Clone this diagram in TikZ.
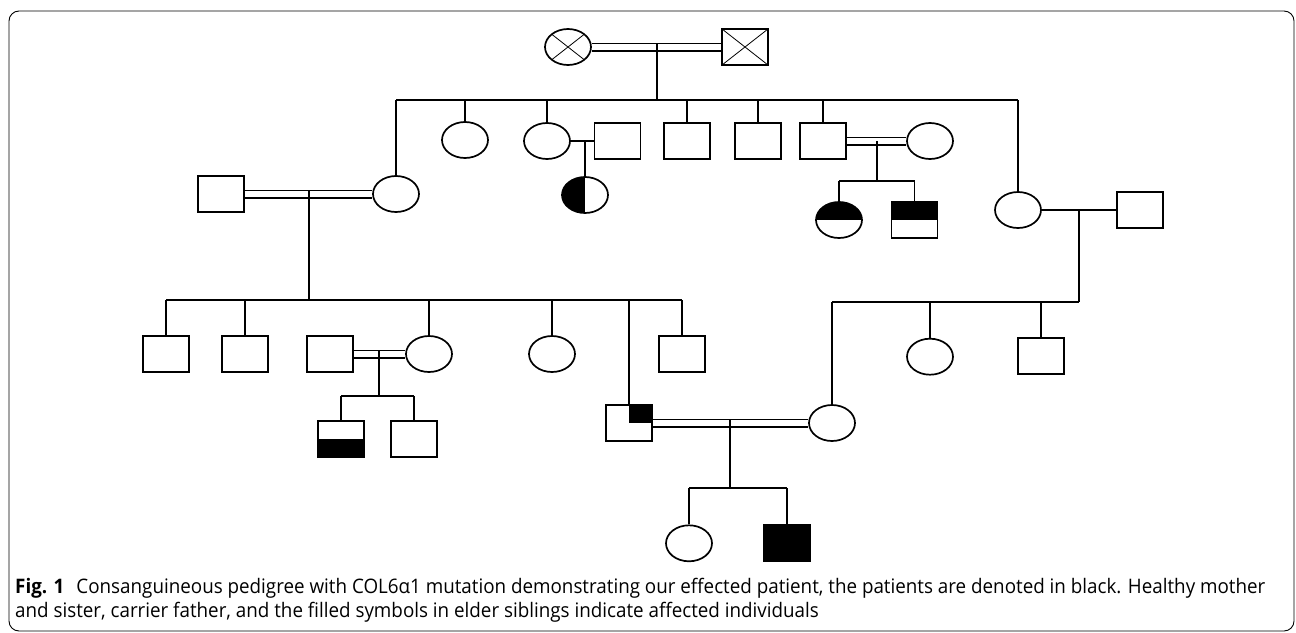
\documentclass[tikz,border=0pt]{standalone}
\usepackage{fontspec}
\newfontfamily\capfont[FakeStretch=0.94]{Open Sans}
\usetikzlibrary{shapes.geometric}
\begin{document}
\begin{tikzpicture}[x=1pt,y=-1pt,
  ln/.style={line width=1.7pt},
  dbl/.style={line width=1.6pt, double, double distance=5.8pt},
  fem/.style={ellipse, draw, line width=1.7pt, minimum width=46pt, minimum height=36pt, inner sep=0pt},
  mal/.style={rectangle, draw, line width=1.7pt, minimum width=46pt, minimum height=36pt, inner sep=0pt},
  crossx/.style={path picture={\draw[line width=0.8pt] (path picture bounding box.north west) -- (path picture bounding box.south east) (path picture bounding box.north east) -- (path picture bounding box.south west);}},
  lefthalf/.style={path picture={\fill (path picture bounding box.north west) rectangle (path picture bounding box.south);}},
  tophalf/.style={path picture={\fill (path picture bounding box.north west) rectangle (path picture bounding box.east);}},
  bottomhalf/.style={path picture={\fill (path picture bounding box.west) rectangle (path picture bounding box.south east);}},
  topright/.style={path picture={\fill (path picture bounding box.north) rectangle (path picture bounding box.east);}},
  affected/.style={fill=black}]
\useasboundingbox (0,0) rectangle (1296,632);
\draw[line width=0.9pt, rounded corners=10pt] (9,11) rectangle (1294,631);

% Generation I
\node[fem,crossx] (gm) at (568,47) {};
\node[mal,crossx] (gf) at (745,47) {};
\draw[dbl] (gm) -- (gf);
\coordinate (gmid) at (657,43.3);
\coordinate (gsib) at (657,100);
\draw[ln] (gmid) -- (gsib);

% Generation II
\node[fem] (a2) at (396,194) {};
\node[mal] (a2h) at (221,194) {};
\node[fem] (b2) at (465,140) {};
\node[fem] (c2) at (547,141) {};
\node[mal] (c2h) at (617.5,141) {};
\node[mal] (d2) at (687,141) {};
\node[mal] (e2) at (758,141) {};
\node[mal] (f2) at (823,141) {};
\node[fem] (f2w) at (930,141) {};
\node[fem] (g2) at (1018,210) {};
\node[mal] (g2h) at (1140,210) {};
\draw[ln] (a2.north |- gsib) -- (g2.north |- gsib);
\foreach \n in {a2,b2,c2,d2,e2,f2,g2} {\draw[ln] (\n.north) -- (\n.north |- gsib);}
\draw[dbl] (a2h) -- (a2);
\draw[ln] (c2) -- (c2h);
\draw[dbl] (f2) -- (f2w);
\draw[ln] (g2) -- (g2h);

% children of c2
\node[fem,lefthalf] (c3) at (585,195) {};
\draw[ln] (c3.north) -- (c3.north |- c2.center);

% children of f2
\coordinate (fmid) at (877,141);
\coordinate (fsib) at (877,181);
\node[fem,tophalf] (f3a) at (839,220) {};
\node[mal,tophalf] (f3b) at (914.5,220) {};
\draw[ln] (fmid) -- (fsib);
\draw[ln] (f3a.north |- fsib) -- (f3b.north |- fsib);
\draw[ln] (f3a.north) -- (f3a.north |- fsib);
\draw[ln] (f3b.north) -- (f3b.north |- fsib);

% children of a2h + a2
\coordinate (amid) at (309,190.3);
\coordinate (asib) at (309,300);
\draw[ln] (amid) -- (asib);
\node[mal] (a3) at (166,354) {};
\node[mal] (b3) at (245,354) {};
\node[mal] (c3h) at (330,354) {};
\node[fem] (d3) at (429,354) {};
\node[fem] (e3) at (552,354) {};
\node[mal,topright] (f3) at (629,423) {};
\node[mal] (g3) at (682,354) {};
\draw[ln] (a3.north |- asib) -- (g3.north |- asib);
\foreach \n in {a3,b3,d3,e3,f3,g3} {\draw[ln] (\n.north) -- (\n.north |- asib);}

% c3h + d3
\draw[dbl] (c3h) -- (d3);
\coordinate (dmid) at (379,350.3);
\coordinate (dsib) at (379,396);
\draw[ln] (dmid) -- (dsib);
\node[mal,bottomhalf] (h4) at (341,438.7) {};
\node[mal] (i4) at (414,438.7) {};
\draw[ln] (h4.north |- dsib) -- (i4.north |- dsib);
\draw[ln] (h4.north) -- (h4.north |- dsib);
\draw[ln] (i4.north) -- (i4.north |- dsib);

% children of g2 + g2h
\coordinate (gmid2) at (1079,210);
\coordinate (gsib2) at (1079,301.7);
\draw[ln] (gmid2) -- (gsib2);
\node[fem] (l3) at (832,423) {};
\node[fem] (j3) at (930,356.7) {};
\node[mal] (k3) at (1041,356.3) {};
\draw[ln] (l3.north |- gsib2) -- (gsib2);
\foreach \n in {l3,j3,k3} {\draw[ln] (\n.north) -- (\n.north |- gsib2);}

% f3 + l3
\draw[dbl] (f3) -- (l3);
\coordinate (pmid) at (730,419.3);
\coordinate (psib) at (730,488.3);
\draw[ln] (pmid) -- (psib);
\node[fem] (m4) at (689,543.3) {};
\node[mal,affected] (n4) at (787,543) {};
\draw[ln] (m4.north |- psib) -- (n4.north |- psib);
\draw[ln] (m4.north) -- (m4.north |- psib);
\draw[ln] (n4.north) -- (n4.north |- psib);

% caption
\node[anchor=west, align=left, inner sep=0pt, font=\capfont\fontsize{20}{24}\selectfont] (cap) at (15,600)
  {\textbf{Fig. 1}\hspace{0.6em}Consanguineous pedigree with COL6α1 mutation demonstrating our effected patient, the patients are denoted in black. Healthy mother\\and sister, carrier father, and the filled symbols in elder siblings indicate affected individuals};
\end{tikzpicture}
\end{document}
